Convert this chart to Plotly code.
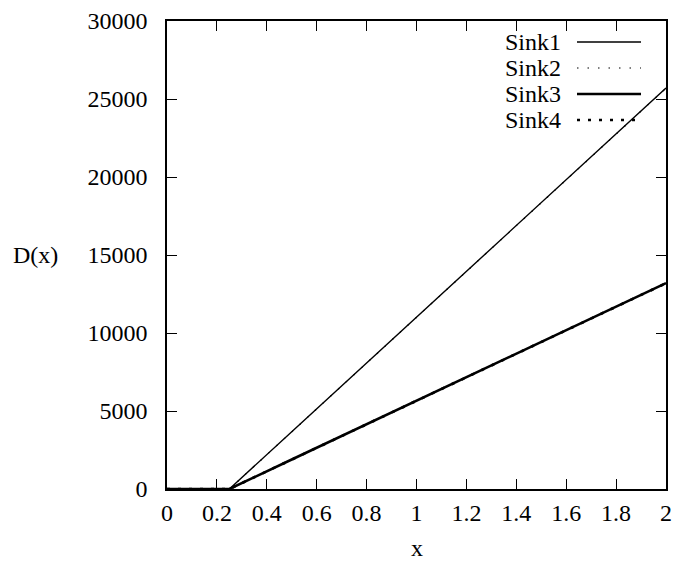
import plotly.graph_objects as go

# Sampled positions along x and the measured D(x) for each sink
x_vals = [0.0, 0.25, 0.5, 1.0, 1.5, 2.0]
sink1 = [0, 0, 3670, 11010, 18350, 25700]
sink2 = [0, 0, 3665, 11000, 18340, 25690]
sink3 = [0, 0, 1890, 5660, 9430, 13200]
sink4 = [0, 0, 1885, 5655, 9425, 13190]

series_names = ["Sink1", "Sink2", "Sink3", "Sink4"]
series_data = [sink1, sink2, sink3, sink4]
line_widths = [1.4, 1.2, 2.6, 2.6]
line_dashes = ["solid", "1.5px,9px", "solid", "3px,8px"]

x_ticks = [0, 0.2, 0.4, 0.6, 0.8, 1.0, 1.2, 1.4, 1.6, 1.8, 2.0]
x_tick_text = ["0", "0.2", "0.4", "0.6", "0.8", "1", "1.2", "1.4", "1.6", "1.8", "2"]
y_ticks = [0, 5000, 10000, 15000, 20000, 25000, 30000]
y_tick_text = ["0", "5000", "10000", "15000", "20000", "25000", "30000"]

FONT = "Liberation Serif"
FS = 24
W, H = 676, 564
L, R, T, B = 167, 10, 21, 75

fig = go.Figure()
for name, ys, w, d in zip(series_names, series_data, line_widths, line_dashes):
    fig.add_trace(go.Scatter(x=x_vals, y=ys, mode="lines", name=name,
                             line=dict(color="black", width=w, dash=d),
                             showlegend=False))

# Key in the upper right: label text on the left, line sample on the right
plot_w = W - L - R
plot_h = H - T - B
def px_to_paper_x(px):
    return (px - L) / plot_w
def px_to_paper_y(py):
    return 1 - (py - T) / plot_h

key_rows_y = [42, 68, 94, 120]
for name, ky, w, d in zip(series_names, key_rows_y, line_widths, line_dashes):
    fig.add_annotation(x=px_to_paper_x(563), y=px_to_paper_y(ky), xref="paper", yref="paper",
                       text=name, showarrow=False, xanchor="right", yanchor="middle",
                       font=dict(family=FONT, size=FS, color="black"))
    fig.add_shape(type="line", xref="paper", yref="paper",
                  x0=px_to_paper_x(577), x1=px_to_paper_x(641),
                  y0=px_to_paper_y(ky), y1=px_to_paper_y(ky),
                  line=dict(color="black", width=w, dash=d))

axis_common = dict(showline=True, linecolor="black", linewidth=1.5, mirror="ticks",
                   ticks="inside", ticklen=10, tickwidth=1.2, tickcolor="black",
                   showgrid=False, zeroline=False, automargin=False,
                   tickfont=dict(family=FONT, size=FS, color="black"))

fig.update_xaxes(range=[0, 2], tickvals=x_ticks, ticktext=x_tick_text,
                 ticklabelstandoff=1, **axis_common)
fig.update_yaxes(range=[0, 30000], tickvals=y_ticks, ticktext=y_tick_text,
                 ticklabelstandoff=13, **axis_common)

fig.add_annotation(x=0.5, y=px_to_paper_y(548), xref="paper", yref="paper",
                   text="x", showarrow=False, xanchor="center", yanchor="middle",
                   font=dict(family=FONT, size=FS, color="black"))
fig.add_annotation(x=px_to_paper_x(35), y=px_to_paper_y(255), xref="paper", yref="paper",
                   text="D(x)", showarrow=False, xanchor="center", yanchor="middle",
                   font=dict(family=FONT, size=FS, color="black"))

fig.update_layout(width=W, height=H, margin=dict(l=L, r=R, t=T, b=B, autoexpand=False),
                  paper_bgcolor="white", plot_bgcolor="white",
                  font=dict(family=FONT, color="black"))

fig.write_html("out.html")
